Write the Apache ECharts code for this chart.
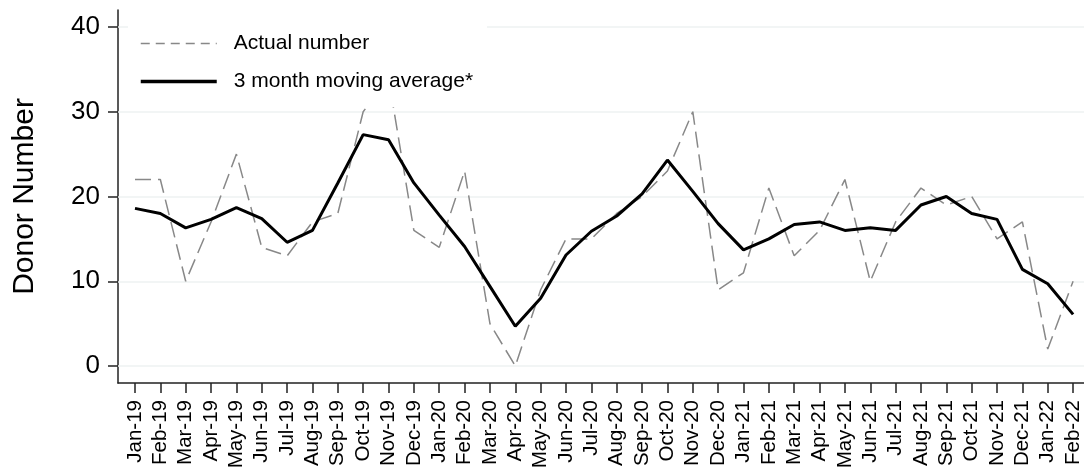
<!DOCTYPE html>
<html>
<head>
<meta charset="utf-8">
<script src="https://cdn.jsdelivr.net/npm/echarts@6/dist/echarts.min.js"></script>
<style>
html,body{margin:0;padding:0;background:#fff;}
#chart{width:1084px;height:470px;}
</style>
</head>
<body>
<div id="chart"></div>
<script>
var categories = ['Jan-19','Feb-19','Mar-19','Apr-19','May-19','Jun-19','Jul-19','Aug-19','Sep-19','Oct-19','Nov-19','Dec-19',
  'Jan-20','Feb-20','Mar-20','Apr-20','May-20','Jun-20','Jul-20','Aug-20','Sep-20','Oct-20','Nov-20','Dec-20',
  'Jan-21','Feb-21','Mar-21','Apr-21','May-21','Jun-21','Jul-21','Aug-21','Sep-21','Oct-21','Nov-21','Dec-21',
  'Jan-22','Feb-22'];
var actualNumber = [22,22,10,17,25,14,13,17,18,30,34,16,
  14,23,5,0,9,15,15,18,20,23,30,9,
  11,21,13,16,22,10,17,21,19,20,15,17,
  2,10];
var movingAverage = [18.6,18.0,16.3,17.3,18.7,17.4,14.6,16.0,21.6,27.3,26.7,21.6,
  17.8,14.1,9.4,4.7,8.0,13.1,15.9,17.7,20.3,24.3,20.6,16.8,
  13.7,15.0,16.7,17.0,16.0,16.3,16.0,19.0,20.0,18.0,17.3,11.4,
  9.7,6.1];
var yTicks = [0,10,20,30,40];
var seriesNames = ['Actual number','3 month moving average*'];

function pairs(arr){ return arr.map(function(v,i){ return [i,v]; }); }
var xIdx = categories.map(function(c,i){ return i; });

var font = 'Liberation Sans, Arial, sans-serif';
var chart = echarts.init(document.getElementById('chart'));
chart.setOption({
  animation:false,
  backgroundColor:'#fff',
  grid:{left:118,right:0,top:10,bottom:87,containLabel:false,outerBoundsMode:'none'},
  legend:{
    orient:'vertical', left:128, top:22, z:10,
    padding:[11,14,15,11],
    backgroundColor:'#fff',
    itemWidth:76, itemHeight:21, itemGap:17,
    itemStyle:{opacity:0},
    textStyle:{fontFamily:font,fontSize:21,color:'#000',padding:[0,0,0,12],lineHeight:21},
    data:[
      {name:seriesNames[0],lineStyle:{color:'#888',width:1.5,type:[9,6]},itemStyle:{opacity:0}},
      {name:seriesNames[1],lineStyle:{color:'#000',width:3.5,type:'solid'},itemStyle:{opacity:0}}
    ]
  },
  xAxis:{
    type:'value', min:-0.67, max:37.43,
    axisLine:{show:true,onZero:false,lineStyle:{color:'#222',width:1.5}},
    axisTick:{show:true,length:10,customValues:xIdx,lineStyle:{color:'#222',width:1.5}},
    axisLabel:{customValues:xIdx,rotate:90,margin:17,fontFamily:font,fontSize:20.5,color:'#000',
      formatter:function(v){ return categories[Math.round(v)] || ''; }},
    splitLine:{show:false}
  },
  yAxis:{
    type:'value', min:-2, max:42,
    name:'Donor Number', nameLocation:'middle', nameGap:78,
    nameTextStyle:{fontFamily:font,fontSize:30,color:'#000'},
    axisLine:{show:true,onZero:false,lineStyle:{color:'#222',width:1.5}},
    axisTick:{show:true,length:10,customValues:yTicks,lineStyle:{color:'#222',width:1.5}},
    axisLabel:{customValues:yTicks,margin:18,fontFamily:font,fontSize:26,color:'#000'},
    splitLine:{show:false}
  },
  series:[
    {name:seriesNames[0],type:'line',data:pairs(actualNumber),symbol:'none',z:2,
     lineStyle:{color:'#888',width:1.5,type:[16,7]},itemStyle:{color:'#888'},
     markLine:{silent:true,symbol:'none',label:{show:false},animation:false,z:1,
       lineStyle:{color:'#eef2f2',width:1.5,type:'solid'},
       data:yTicks.map(function(t){ return {yAxis:t}; })}},
    {name:seriesNames[1],type:'line',data:pairs(movingAverage),symbol:'none',z:3,
     lineStyle:{color:'#000',width:3},itemStyle:{color:'#000'}}
  ]
});
</script>
</body>
</html>
